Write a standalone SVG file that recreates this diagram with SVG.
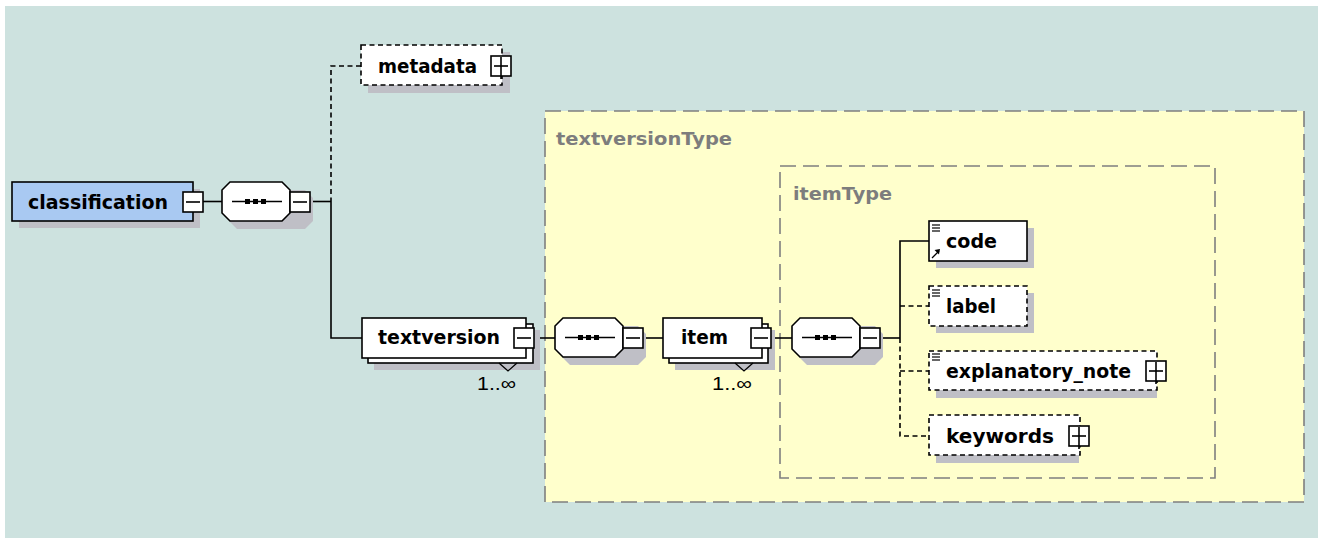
<svg xmlns="http://www.w3.org/2000/svg" xmlns:xlink="http://www.w3.org/1999/xlink" width="1320" height="538" viewBox="0 0 1320 538">
  <style>
    .bg { fill: #cde2df; }
    .type { fill: #ffffcc; stroke: #7f7f7f; stroke-width: 1.6; stroke-dasharray: 16 7; }
    .typelabel { font-family: "DejaVu Sans", "Liberation Sans", sans-serif; font-weight: bold; font-size: 18.5px; fill: #7d7d7d; }
    .shadow { fill: #bfbfc6; stroke: none; }
    .box { fill: #ffffff; stroke: #000000; stroke-width: 1.6; }
    .opt { fill: #ffffff; stroke: #000000; stroke-width: 1.6; stroke-dasharray: 5 3.5; }
    .root { fill: #a9c9f2; stroke: #000000; stroke-width: 1.6; }
    .name { font-family: "DejaVu Sans", "Liberation Sans", sans-serif; font-weight: bold; font-size: 20px; fill: #000000; }
    .card { font-family: "Liberation Sans", Arial, sans-serif; font-size: 19px; fill: #000000; }
    .wire { fill: none; stroke: #000000; stroke-width: 1.6; }
    .wire-opt { fill: none; stroke: #000000; stroke-width: 1.6; stroke-dasharray: 5 3.5; }
    .ico { stroke: #000000; stroke-width: 1.3; fill: none; }
  </style>
  <defs>
    <!-- collapse button -->
    <g id="minus">
      <rect x="0" y="0" width="20" height="20" fill="#ffffff" stroke="#000000" stroke-width="1.6"/>
      <line x1="3" y1="10" x2="17" y2="10" stroke="#000000" stroke-width="1.6"/>
    </g>
    <!-- expand button -->
    <g id="plus">
      <rect x="0" y="0" width="20" height="20" fill="#ffffff" stroke="#000000" stroke-width="1.6"/>
      <line x1="3" y1="10" x2="17" y2="10" stroke="#000000" stroke-width="1.6"/>
      <line x1="10" y1="1" x2="10" y2="23" stroke="#000000" stroke-width="1.6"/>
    </g>
    <!-- sequence compositor -->
    <g id="seq">
      <path d="M15,8 L83,8 L91,16 L91,39 L83,47 L15,47 L7,39 L7,16 Z" class="shadow"/>
      <path d="M8,0 L60,0 L68,8 L68,31 L60,39 L8,39 L0,31 L0,8 Z" fill="#ffffff" stroke="#000000" stroke-width="1.6"/>
      <line x1="10" y1="19.5" x2="60" y2="19.5" stroke="#000000" stroke-width="1.6"/>
      <rect x="23" y="17" width="5" height="5" fill="#000000"/>
      <rect x="31" y="17" width="5" height="5" fill="#000000"/>
      <rect x="39" y="17" width="5" height="5" fill="#000000"/>
      <use xlink:href="#minus" x="68" y="10"/>
    </g>
    <!-- simple content marker -->
    <g id="lines">
      <line x1="0" y1="0" x2="8" y2="0" stroke="#000000" stroke-width="1.2"/>
      <line x1="0" y1="3" x2="8" y2="3" stroke="#000000" stroke-width="1.2"/>
      <line x1="0" y1="6" x2="8" y2="6" stroke="#000000" stroke-width="1.2"/>
    </g>
  </defs>

  <!-- canvas -->
  <rect x="0" y="0" width="1320" height="538" fill="#ffffff"/>
  <rect x="5" y="6" width="1313" height="532" class="bg"/>

  <!-- complex type frames -->
  <g id="textversionType">
    <rect x="545" y="111" width="759" height="391" class="type"/>
    <text x="556" y="145" class="typelabel" textLength="176" lengthAdjust="spacingAndGlyphs">textversionType</text>
  </g>
  <g id="itemType">
    <rect x="780" y="166" width="435" height="312" class="type"/>
    <text x="793" y="200" class="typelabel" textLength="99" lengthAdjust="spacingAndGlyphs">itemType</text>
  </g>

  <!-- connectors -->
  <g id="connectors">
    <line x1="203" y1="201.5" x2="222" y2="201.5" class="wire"/>
    <line x1="310" y1="201.5" x2="331" y2="201.5" class="wire"/>
    <polyline points="361,66 331,66 331,201" class="wire-opt"/>
    <polyline points="331,201 331,338 362,338" class="wire"/>
    <line x1="535" y1="338" x2="556" y2="338" class="wire"/>
    <line x1="643" y1="338" x2="663" y2="338" class="wire"/>
    <line x1="772" y1="338" x2="792" y2="338" class="wire"/>
    <line x1="880" y1="338" x2="900" y2="338" class="wire"/>
    <polyline points="900,338 900,241 929,241" class="wire"/>
    <polyline points="900,338 900,436 929,436" class="wire-opt"/>
    <line x1="900" y1="306" x2="929" y2="306" class="wire-opt"/>
    <line x1="900" y1="371" x2="929" y2="371" class="wire-opt"/>
  </g>

  <!-- classification (root element) -->
  <g id="classification">
    <rect x="19" y="189" width="181" height="39" class="shadow"/>
    <rect x="12" y="182" width="181" height="39" class="root"/>
    <text x="28" y="208.5" class="name" textLength="140" lengthAdjust="spacingAndGlyphs">classification</text>
    <use xlink:href="#minus" x="183" y="192"/>
  </g>

  <!-- sequences -->
  <g id="seq-classification">
    <use xlink:href="#seq" x="222" y="182"/>
  </g>
  <g id="seq-textversion">
    <use xlink:href="#seq" x="555" y="318"/>
  </g>
  <g id="seq-item">
    <use xlink:href="#seq" x="792" y="318"/>
  </g>

  <!-- metadata (optional) -->
  <g id="metadata">
    <rect x="368" y="52" width="142" height="41" class="shadow"/>
    <rect x="361" y="45" width="141" height="40" class="opt"/>
    <text x="378" y="72.5" class="name" textLength="99" lengthAdjust="spacingAndGlyphs">metadata</text>
    <use xlink:href="#plus" x="491" y="56"/>
  </g>

  <!-- textversion 1..∞ -->
  <g id="textversion">
    <rect x="374" y="330" width="166" height="40" class="shadow"/>
    <rect x="368" y="324" width="165" height="39" class="box"/>
    <rect x="362" y="318" width="164" height="40" class="box"/>
    <text x="378" y="344" class="name" textLength="122" lengthAdjust="spacingAndGlyphs">textversion</text>
    <use xlink:href="#minus" x="514" y="328"/>
    <polyline points="499,363 508,371 517,363" class="ico" stroke="#555555"/>
    <text x="477" y="390" class="card" textLength="39" lengthAdjust="spacingAndGlyphs">1..∞</text>
  </g>

  <!-- item 1..∞ -->
  <g id="item">
    <rect x="675" y="330" width="100" height="40" class="shadow"/>
    <rect x="669" y="324" width="99" height="39" class="box"/>
    <rect x="663" y="318" width="99" height="40" class="box"/>
    <text x="681" y="344" class="name" textLength="47" lengthAdjust="spacingAndGlyphs">item</text>
    <use xlink:href="#minus" x="751" y="328"/>
    <polyline points="735,363 744,371 753,363" class="ico" stroke="#555555"/>
    <text x="712" y="390" class="card" textLength="40" lengthAdjust="spacingAndGlyphs">1..∞</text>
  </g>

  <!-- code (reference) -->
  <g id="code">
    <rect x="936" y="228" width="98" height="40" class="shadow"/>
    <rect x="929" y="221" width="98" height="40" class="box"/>
    <use xlink:href="#lines" x="932" y="225"/>
    <line x1="932" y1="258" x2="939" y2="251" class="ico" stroke-width="1.8"/>
    <polygon points="940,249 934.5,250 939,254.5" fill="#000000"/>
    <text x="946" y="248" class="name" textLength="51" lengthAdjust="spacingAndGlyphs">code</text>
  </g>

  <!-- label -->
  <g id="label">
    <rect x="936" y="293" width="98" height="40" class="shadow"/>
    <rect x="929" y="286" width="98" height="40" class="opt"/>
    <use xlink:href="#lines" x="932" y="290"/>
    <text x="946" y="313" class="name" textLength="50" lengthAdjust="spacingAndGlyphs">label</text>
  </g>

  <!-- explanatory_note -->
  <g id="explanatory_note">
    <rect x="936" y="358" width="221" height="40" class="shadow"/>
    <rect x="929" y="351" width="228" height="39" class="opt"/>
    <use xlink:href="#lines" x="932" y="354"/>
    <text x="946" y="377.5" class="name" textLength="185" lengthAdjust="spacingAndGlyphs">explanatory_note</text>
    <use xlink:href="#plus" x="1146" y="361"/>
  </g>

  <!-- keywords -->
  <g id="keywords">
    <rect x="936" y="422" width="143" height="41" class="shadow"/>
    <rect x="929" y="415" width="151" height="40" class="opt"/>
    <text x="946" y="442.5" class="name" textLength="108" lengthAdjust="spacingAndGlyphs">keywords</text>
    <use xlink:href="#plus" x="1069" y="426"/>
  </g>
</svg>
